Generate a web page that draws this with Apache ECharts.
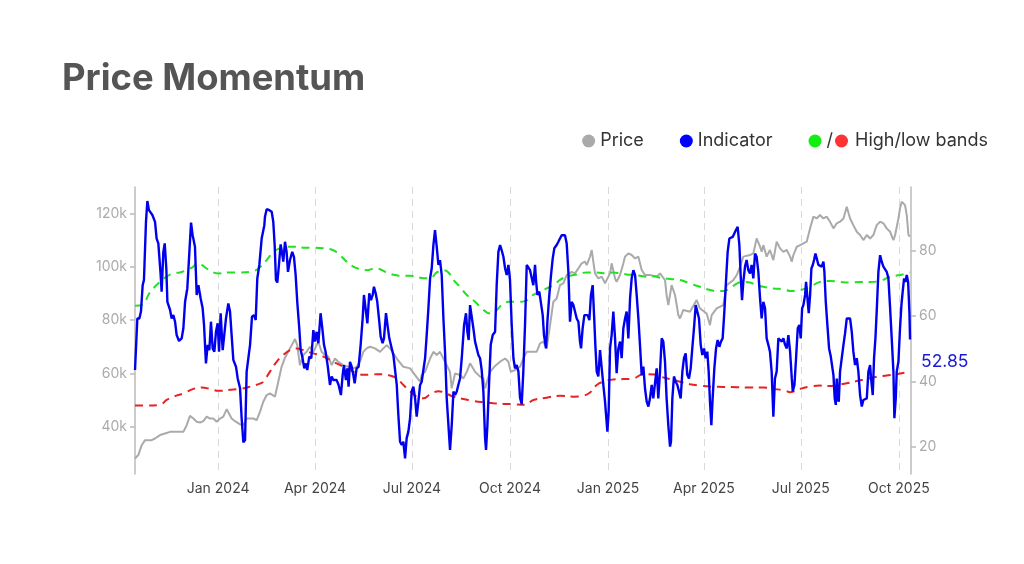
<!DOCTYPE html>
<html><head><meta charset="utf-8">
<script src="https://cdn.jsdelivr.net/npm/echarts@6/dist/echarts.min.js"></script>
<style>html,body{margin:0;padding:0;background:#fff}#c{width:1024px;height:564px}</style>
</head><body><div id="c"></div>
<script>
// x values are days counted from startDate
const startDate = '2023-10-15';
const endDay = 728.4;
const xTickDates = ['2024-01-01','2024-04-01','2024-07-01','2024-10-01','2025-01-01','2025-04-01','2025-07-01','2025-10-01'];
const xTickLabels = ['Jan 2024','Apr 2024','Jul 2024','Oct 2024','Jan 2025','Apr 2025','Jul 2025','Oct 2025'];
const priceTicks = [40000,60000,80000,100000,120000];
const indicatorTicks = [20,40,60,80];

const indicator = [
[0,43.5],[2.2,59.3],[4.1,59.3],[5.6,61.4],[7.2,69.5],[8.4,71.1],[10.3,88.9],[11.6,95.3],[13.1,92.5],[14.7,92.0],[16.3,91.0],[17.8,91.5],[18.8,88.9],[20.3,83.8],[21.9,82.3],[24.1,72.6],[25.0,67.5],[26.6,79.7],[27.9,82.3],[29.4,74.6],[30.4,64.4],[32.9,61.9],[34.4,59.3],[36.0,60.3],[37.6,58.3],[39.1,54.2],[41.3,52.4],[43.8,53.2],[45.4,56.3],[47.0,64.4],[49.1,68.5],[50.7,77.7],[52.6,88.7],[54.1,84.8],[56.3,81.3],[57.9,66.5],[59.5,69.5],[61.6,65.5],[63.5,62.4],[64.8,57.3],[66.6,45.5],[68.2,51.2],[69.8,49.6],[71.3,58.3],[72.9,50.1],[74.5,49.1],[76.0,55.2],[77.6,57.8],[78.9,49.1],[80.4,60.9],[82.3,49.6],[83.9,49.6],[85.4,59.3],[87.6,63.9],[89.2,61.4],[90.7,54.2],[92.3,46.6],[94.8,44.5],[96.4,40.9],[98.6,37.9],[100.1,28.7],[101.7,21.3],[103.3,22.0],[104.8,43.0],[106.4,47.1],[108.0,51.2],[109.8,59.8],[111.7,60.3],[113.3,58.8],[114.8,71.6],[116.7,75.7],[118.9,83.8],[121.4,87.9],
[122.0,90.5],[123.6,92.8],[126.1,92.5],[128.3,92.0],[129.8,88.9],[131.1,81.8],[132.3,71.1],[133.6,70.3],[135.1,75.7],[136.7,82.0],[137.9,79.7],[139.2,76.7],[140.8,82.8],[142.3,79.7],[143.6,73.6],[145.5,77.2],[147.6,79.7],[149.2,78.2],[150.8,72.6],[152.3,64.4],[154.2,56.3],[155.5,49.6],[157.0,47.6],[158.9,44.0],[160.5,45.5],[161.7,43.5],[163.6,47.6],[165.5,47.1],[167.4,55.7],[168.9,52.2],[170.5,55.2],[172.1,51.7],[174.2,60.9],[175.8,56.3],[177.4,51.2],[178.9,49.1],[180.8,45.0],[183.0,38.9],[184.6,41.5],[186.1,40.4],[187.7,40.9],[189.3,40.4],[191.1,38.9],[193.3,35.8],[194.9,41.9],[196.1,45.0],[198.0,40.4],[199.3,44.0],[200.5,38.4],[201.8,46.0],[203.4,44.5],[204.9,42.0],[206.2,39.4],[208.0,44.0],[209.9,44.5],[211.8,51.2],[213.7,59.3],[214.9,66.5],[216.8,61.4],[218.1,57.8],[219.9,67.0],[221.5,64.9],[223.1,66.5],[224.3,69.0],[225.9,67.0],[227.4,64.4],[229.3,58.3],[230.6,53.7],[232.4,51.7],[233.7,53.2],[235.6,60.9],[236.8,57.8],[238.7,53.2],
[241.0,50.1],[242.5,48.1],[244.1,43.5],[245.7,38.9],[247.2,29.7],[248.8,21.5],[250.4,20.5],[251.9,21.5],[253.5,16.4],[255.0,22.6],[256.6,24.6],[258.2,28.7],[259.7,36.9],[261.3,38.4],[262.9,34.8],[264.4,29.2],[266.0,33.8],[267.6,38.9],[269.1,39.9],[270.7,39.9],[272.3,47.1],[273.8,54.2],[275.4,62.4],[277.0,71.6],[278.5,74.6],[280.1,81.8],[281.6,86.4],[283.2,81.3],[284.8,75.7],[286.3,77.2],[287.9,72.6],[289.5,59.3],[291.0,49.1],[292.6,34.8],[294.2,26.6],[295.7,19.0],[297.3,26.6],[298.9,36.9],[300.4,35.8],[302.0,36.9],[303.5,38.9],[305.1,40.9],[306.7,47.1],[308.9,57.3],[310.7,60.9],[312.0,55.2],[313.2,52.7],[314.5,63.4],[316.1,63.9],[317.6,56.3],[319.2,52.2],[320.8,50.1],[322.3,48.1],[323.9,47.1],[325.4,43.5],[327.0,36.9],[328.6,22.6],[329.5,19.0],[330.8,26.6],[332.3,38.9],[333.9,51.2],[335.8,54.2],[338.0,55.2],[339.5,69.5],[341.1,79.7],[342.7,81.8],[344.2,80.2],[345.8,78.2],[347.4,74.6],[348.9,72.6],[350.5,75.7],[352.0,71.1],[353.6,57.3],[355.2,47.1],[356.7,44.0],[358.3,45.0],[359.9,43.0],[361.4,35.0],[363.0,33.0],
[364.5,43.0],[366.1,57.3],[367.7,75.7],[369.2,76.2],[370.8,74.1],[372.4,74.6],[373.9,69.5],[375.5,75.7],[376.4,71.1],[377.7,66.5],[379.5,67.5],[381.1,68.0],[382.7,60.3],[383.9,54.2],[385.8,50.1],[387.1,58.3],[388.9,66.5],[390.5,72.6],[392.1,77.7],[393.6,80.8],[395.8,81.8],[397.4,82.8],[398.9,83.8],[400.5,84.8],[402.1,85.1],[403.6,84.8],[405.2,82.3],[406.8,73.6],[408.3,58.3],[409.9,64.4],[411.5,63.4],[413.0,61.4],[414.6,59.3],[416.2,58.3],[417.7,52.2],[418.7,50.1],[420.2,56.3],[421.8,60.3],[423.4,59.8],[424.9,60.3],[426.5,58.8],[428.0,66.5],[429.6,69.5],[430.9,60.3],[432.1,51.2],[433.4,43.0],[434.9,41.5],[436.5,49.6],[438.1,44.0],[439.6,38.9],[441.2,33.8],[443.4,24.6],[444.6,30.7],[445.9,50.1],[447.4,54.2],[449.0,61.4],[450.6,53.2],[452.1,42.5],[453.7,50.1],[455.3,52.2],[456.8,47.1],[458.4,56.3],[460.0,59.3],[461.5,61.4],[463.1,53.2],[464.7,65.5],[466.2,71.6],[467.8,74.1],[469.4,72.6],[470.9,66.5],[472.5,59.3],[474.0,51.2],[475.6,41.9],[477.2,44.5],[478.7,37.9],[480.3,33.8],[481.9,32.3],[483.4,34.8],
[485.0,38.9],[486.5,34.8],[488.1,39.4],[489.7,44.0],[491.2,34.8],[492.8,43.0],[494.4,53.2],[495.9,52.2],[497.5,46.0],[499.0,34.8],[500.6,26.6],[502.2,20.0],[503.1,21.5],[504.4,34.8],[505.9,41.5],[507.5,39.9],[509.1,38.9],[510.6,36.9],[512.2,34.8],[513.8,43.0],[515.3,47.1],[516.9,48.6],[518.4,42.0],[520.0,40.9],[521.6,44.0],[523.1,50.1],[524.7,56.3],[526.3,63.4],[527.8,61.4],[529.4,59.3],[531.0,51.2],[532.5,48.1],[534.1,50.1],[535.7,47.1],[537.2,49.1],[538.5,43.0],[539.7,33.8],[541.0,26.6],[542.2,34.8],[543.8,44.0],[545.4,50.1],[546.9,52.7],[548.5,50.6],[550.0,52.2],[551.6,53.2],[553.2,61.4],[554.7,70.5],[556.3,79.7],[557.9,83.8],[559.4,83.3],[561.0,84.3],[562.6,84.8],[564.1,86.4],[565.7,87.4],[567.3,81.8],[568.5,72.6],[569.8,64.9],[571.0,70.5],[572.6,75.2],[574.1,77.2],[575.7,74.1],[577.3,73.1],[578.8,75.7],[580.4,71.6],[582.0,79.2],[583.5,78.2],[585.1,73.6],[586.7,65.5],[588.2,59.3],[589.8,64.4],[591.4,62.4],[592.9,53.2],[594.5,51.2],[596.0,49.1],[597.6,43.0],[599.2,29.2],[600.7,40.9],[602.3,43.0],[603.9,53.2],[605.4,52.7],
[607.1,52.2],[608.6,53.2],[610.2,51.2],[611.8,50.1],[613.3,54.2],[614.9,49.1],[616.5,40.9],[617.4,36.9],[619.0,38.9],[620.5,47.1],[622.1,56.3],[623.6,57.3],[624.9,53.2],[626.2,62.4],[627.4,63.4],[629.0,66.5],[629.9,70.5],[631.2,65.5],[632.4,60.9],[633.7,66.5],[634.9,74.6],[636.2,75.7],[637.4,77.2],[638.7,79.2],[639.9,77.7],[641.5,75.7],[643.0,76.2],[644.6,75.2],[646.2,76.7],[647.1,73.6],[648.4,64.4],[649.9,57.3],[651.5,50.1],[653.1,47.6],[654.6,47.1],[655.6,41.9],[656.8,34.8],[657.8,32.8],[658.7,40.9],[659.6,34.8],[660.6,33.8],[661.8,43.0],[663.4,47.1],[665.0,51.2],[666.5,54.7],[668.1,59.3],[669.6,59.8],[671.2,59.3],[672.8,55.2],[674.3,49.1],[675.9,45.0],[677.5,47.1],[679.0,43.0],[680.6,35.8],[682.2,32.3],[683.7,34.3],[685.3,33.8],[686.9,34.8],[688.4,43.0],[690.0,45.0],[690.9,40.9],[692.5,35.8],[693.7,47.1],[695.0,53.2],[696.2,61.4],[697.8,73.6],[699.4,78.7],[700.9,76.7],[702.5,75.2],[704.1,75.7],[705.6,73.6],[707.2,71.6],[708.8,62.4],[710.3,53.2],[711.9,43.0],[712.8,28.7],[714.1,34.8],[715.0,43.0],[716.6,46.0],[718.1,56.3],[719.4,63.4],[720.6,67.5],[721.9,71.6],[723.2,70.5],[724.4,72.6],[725.7,70.5],[726.9,61.4],[727.5,52.85]
];

const price = [
[0,28100],[3.1,29400],[6.3,33100],[9.4,35000],[12.5,35000],[15.6,35000],[18.8,35600],[23.5,36900],[28.2,37500],[32.9,38100],[39.1,38100],[45.4,38100],[48.5,40600],[51.6,44100],[54.8,43100],[57.9,41900],[61.0,41600],[64.1,42100],[67.3,43800],[70.4,43100],[73.5,43100],[76.7,41900],[79.8,43100],[82.9,43800],[86.1,46600],[87.6,46300],[90.7,43100],[93.9,42100],[98.6,40900],[101.7,40600],[104.8,43100],[108.0,43100],[111.1,43100],[114.2,42500],[117.3,45600],[120.4,49400],
[123.6,51900],[126.7,52500],[131.4,51300],[134.5,56900],[137.6,62500],[140.8,65900],[145.5,69400],[150.2,72900],[152.3,70600],[154.8,63100],[158.0,66900],[161.1,68100],[164.2,70000],[167.4,68100],[170.5,70600],[172.1,71900],[175.2,68100],[178.3,66900],[181.5,66300],[184.6,63100],[187.7,65600],[190.8,64400],[195.5,63100],[200.2,62500],[204.9,61900],[208.0,62500],[211.2,64400],[214.3,68100],[217.4,69400],[220.6,70000],[225.3,69400],[230.0,68100],[233.1,69400],[236.2,70600],
[239.4,69400],[245.7,65600],[251.9,62500],[258.2,61900],[262.9,59400],[267.6,56900],[269.1,59400],[272.3,60600],[277.0,65600],[280.1,68100],[283.2,66900],[286.3,68100],[291.0,64400],[295.7,60600],[297.3,54400],[300.4,60000],[305.1,59400],[308.2,58100],[311.4,60600],[314.5,63800],[319.2,60600],[323.9,58800],[327.0,58100],[328.6,54400],[330.8,57500],[333.3,60600],[338.0,62800],[342.7,64400],[347.4,65600],[350.5,64400],[352.7,60600],[356.7,61300],[361.4,62500],
[364.5,65600],[367.7,68100],[372.4,68100],[377.0,68100],[380.2,71300],[383.3,71900],[386.4,69400],[389.6,78100],[392.7,86900],[395.8,88100],[398.9,93100],[402.1,93800],[405.2,96900],[409.9,98100],[413.0,97500],[416.2,99400],[419.3,101300],[422.4,101900],[424.0,100600],[427.1,103800],[428.7,106300],[430.2,101900],[431.8,97500],[434.9,95600],[438.1,96300],[441.2,93800],[442.8,93100],[445.9,97500],[447.4,101300],[450.6,95600],[452.1,94400],[455.3,96900],[458.4,101300],[460.0,103800],[463.1,105000],[466.2,104400],[469.4,103100],[472.5,103800],[475.6,98800],[478.7,96900],
[483.4,96900],[489.7,96300],[492.8,97500],[497.5,95000],[499.0,89400],[500.6,85600],[502.2,89400],[503.7,93100],[506.9,89400],[510.0,81900],[511.6,80600],[514.7,83800],[521.0,83100],[527.2,87500],[530.3,84400],[536.6,82500],[539.7,78100],[541.3,81900],[546.0,84400],[552.2,85600],[555.4,93100],[561.6,95000],[564.8,96900],[567.9,100000],[571.0,103800],[577.3,104400],[580.4,105000],[583.5,110600],[585.1,111300],[586.7,107500],[588.2,105600],[589.8,108100],[592.9,103800],[596.0,106300],[599.2,102500],[602.3,109400],[603.9,110000],
[605.5,106900],[608.6,105600],[611.8,106300],[614.9,103800],[616.5,101900],[618.0,104400],[621.2,107500],[624.3,108100],[627.4,108800],[630.5,109400],[633.7,114400],[636.8,118800],[639.9,118100],[643.0,119400],[646.2,118100],[649.3,118800],[652.4,116900],[655.6,114400],[658.7,116300],[661.8,116900],[665.0,118100],[668.1,122500],[671.2,118100],[674.3,115600],[677.5,113100],[680.6,111900],[683.7,110000],[686.9,111900],[690.0,110600],[693.1,111900],[696.2,115600],[699.4,116900],[702.5,116300],[705.6,114400],[708.8,113100],[711.9,110000],[713.5,111900],[716.6,118100],[718.1,121900],[719.7,124400],[721.3,123800],[722.8,123100],[724.4,119400],[726.0,111900],[727.5,111300]
];

const highBand = [
[0,63.2],[7.8,63.6],[12.5,66.5],[17.2,68.5],[23.5,70.5],[29.7,72.1],[36.0,73.1],[42.2,73.4],[48.5,74.1],[54.8,75.2],[57.9,76.2],[62.6,75.7],[67.3,74.6],[73.5,73.4],[78.2,73.1],[89.2,73.4],[98.6,73.4],[111.1,73.8],[117.3,75.0],[123.6,77.2],[129.8,79.7],[136.1,80.8],[142.3,81.3],[148.6,81.3],[158.0,81.0],[167.4,81.0],[176.8,80.8],[186.1,80.2],[192.4,78.7],[198.7,76.7],[204.9,75.2],[211.2,74.4],[217.4,74.1],[225.3,74.6],[230.0,74.4],[236.2,73.4],[244.0,72.6],[248.8,72.4],[258.2,72.4],[267.6,71.8],[277.0,71.6],[283.2,73.4],[289.5,74.1],[294.2,73.4],[298.9,71.1],[305.1,69.0],[311.4,66.5],[319.2,64.4],[325.4,62.4],[333.3,60.8],[338.0,61.4],[344.2,63.4],[350.5,64.4],[358.3,64.4],[366.1,64.6],[373.9,66.5],[380.2,67.5],[386.4,68.5],[392.7,69.5],[398.9,71.1],[405.2,72.1],[414.6,72.8],[424.0,73.4],[433.4,73.4],[442.8,73.1],[449.0,73.4],[455.3,73.1],[461.5,72.8],[467.8,72.6],[474.0,72.4],[480.3,72.1],[488.1,72.2],[492.8,71.8],[502.2,71.4],[511.6,71.1],[521.0,70.0],[530.3,69.0],[539.7,68.0],[546.0,67.7],[552.2,67.7],[558.5,68.5],[564.8,70.0],[571.0,70.5],[577.3,70.3],[583.5,69.5],[589.8,69.0],[599.2,68.5],[610.1,68.2],[614.9,67.7],[624.3,68.0],[633.7,69.0],[643.0,70.5],[652.4,70.8],[661.8,70.5],[671.2,70.3],[680.6,70.5],[690.0,70.5],[699.4,70.8],[708.8,72.1],[718.1,72.6],[727.5,73.4]
];

const lowBand = [
[0,32.6],[11.0,32.6],[23.5,32.8],[29.7,34.3],[36.0,35.3],[45.4,36.3],[54.8,37.7],[62.6,38.1],[70.4,37.7],[78.2,37.1],[89.2,37.4],[98.6,37.7],[108.0,38.4],[117.3,39.3],[120.4,39.9],[126.7,43.0],[132.9,46.0],[139.2,48.1],[145.5,49.6],[151.7,50.1],[158.0,49.6],[164.2,48.9],[170.5,48.3],[176.8,47.6],[183.0,46.6],[189.3,45.5],[195.5,44.5],[201.8,43.5],[208.0,42.5],[214.3,42.0],[220.6,42.0],[226.8,42.2],[233.1,42.2],[239.3,41.8],[245.7,40.9],[251.9,38.9],[258.2,36.9],[264.4,35.3],[270.7,34.8],[277.0,36.0],[285.0,37.0],[292.0,36.3],[298.9,35.3],[308.2,34.6],[317.6,34.0],[327.0,33.6],[336.4,33.3],[345.8,33.1],[355.2,33.0],[366.1,32.8],[373.9,34.3],[386.4,35.0],[398.9,35.6],[411.5,35.3],[420.9,35.6],[427.1,36.6],[433.4,38.9],[439.6,39.9],[449.0,40.6],[458.4,40.7],[467.8,40.9],[477.2,42.2],[488.1,42.1],[492.8,41.5],[502.2,40.7],[511.6,39.9],[521.0,39.1],[530.3,38.7],[539.7,38.4],[552.2,38.3],[564.8,38.2],[577.3,38.1],[589.8,38.1],[599.2,37.7],[610.1,37.2],[614.9,36.7],[618.0,36.9],[624.3,37.7],[633.7,38.4],[643.0,38.7],[652.4,38.6],[658.7,38.9],[668.1,39.4],[677.5,40.1],[686.9,40.7],[696.2,41.4],[705.6,41.8],[715.0,42.2],[727.5,43.0]
];

const DAY = 86400000;
const t0 = Date.parse(startDate + 'T00:00:00Z');
const toTs = d => t0 + d * DAY;
const toSeries = arr => arr.map(p => [toTs(p[0]), p[1]]);
const xTickTs = xTickDates.map(s => Date.parse(s + 'T00:00:00Z'));
const FONT = 'Inter';

const chart = echarts.init(document.getElementById('c'), null, {renderer: 'canvas'});
chart.setOption({
  animation: false,
  backgroundColor: '#ffffff',
  textStyle: {fontFamily: FONT},
  title: {
    text: 'Price Momentum', left: 57, top: 56,
    textStyle: {fontFamily: FONT, fontWeight: 'bold', fontSize: 36.4, color: '#555555'}
  },
  legend: {
    data: ['Price', 'Indicator', 'High band'],
    right: 31, top: 127,
    icon: 'circle', itemWidth: 13, itemHeight: 13, itemGap: 36,
    itemStyle: {borderWidth: 0},
    selectedMode: false,
    textStyle: {
      fontFamily: FONT, fontSize: 18, color: '#333333',
      rich: {
        sl: {fontFamily: FONT, fontSize: 18, color: '#333333', padding: [0, 2, 0, 0]},
        rd: {width: 13, height: 13, borderRadius: 6.5, backgroundColor: '#ff3333'},
        tx: {fontFamily: FONT, fontSize: 18, color: '#333333', padding: [0, 0, 0, 7]}
      }
    },
    formatter: name => name === 'High band' ? '{sl|/}{rd| }{tx|High/low bands}' : name
  },
  grid: {left: 135, right: 113, top: 187, bottom: 90, containLabel: false, outerBoundsMode: 'none'},
  xAxis: {
    type: 'value', min: toTs(0), max: toTs(endDay),
    axisLine: {show: false},
    axisTick: {show: false, customValues: xTickTs},
    axisLabel: {
      customValues: xTickTs, color: '#444444', fontSize: 14, fontFamily: FONT, margin: 8,
      formatter: v => { const i = xTickTs.indexOf(v); return i >= 0 ? xTickLabels[i] : ''; }
    },
    splitLine: {show: true, lineStyle: {color: '#d9d9d9', width: 1, type: [7, 5]}}
  },
  yAxis: [
    {
      type: 'value', position: 'left', min: 22300, max: 129900,
      axisLine: {show: true, lineStyle: {color: '#bbbbbb', width: 1.5}},
      axisTick: {show: true, length: 5, customValues: priceTicks, lineStyle: {color: '#bbbbbb', width: 1.5}},
      axisLabel: {customValues: priceTicks, color: '#aaaaaa', fontSize: 14, fontFamily: FONT, margin: 8,
        formatter: v => (v / 1000) + 'k'},
      splitLine: {show: false}
    },
    {
      type: 'value', position: 'right', min: 11.6, max: 99.6,
      axisLine: {show: true, lineStyle: {color: '#bbbbbb', width: 1.5}},
      axisTick: {show: true, length: 5, customValues: indicatorTicks, lineStyle: {color: '#bbbbbb', width: 1.5}},
      axisLabel: {customValues: indicatorTicks, color: '#aaaaaa', fontSize: 14, fontFamily: FONT, margin: 8},
      splitLine: {show: false}
    }
  ],
  series: [
    {
      name: 'Price', type: 'line', yAxisIndex: 0, data: toSeries(price),
      showSymbol: false, symbol: 'none', emphasis: {disabled: true},
      lineStyle: {color: '#aaaaaa', width: 2}, itemStyle: {color: '#aaaaaa'}
    },
    {
      name: 'Low band', type: 'line', yAxisIndex: 1, data: toSeries(lowBand), smooth: 0.4,
      showSymbol: false, symbol: 'none', emphasis: {disabled: true},
      lineStyle: {color: '#e62222', width: 2, type: [8, 6]}, itemStyle: {color: '#ff3333'}
    },
    {
      name: 'High band', type: 'line', yAxisIndex: 1, data: toSeries(highBand), smooth: 0.4,
      showSymbol: false, symbol: 'none', emphasis: {disabled: true},
      lineStyle: {color: '#22e022', width: 2, type: [8, 6]}, itemStyle: {color: '#11ee11'}
    },
    {
      name: 'Indicator', type: 'line', yAxisIndex: 1, data: toSeries(indicator),
      showSymbol: false, symbol: 'none', emphasis: {disabled: true},
      lineStyle: {color: '#0000ee', width: 2.4}, itemStyle: {color: '#0000ff'},
      endLabel: {
        show: true, formatter: p => p.value[1].toFixed(2),
        color: '#1a1ad6', fontSize: 17.5, fontFamily: FONT, distance: 0, offset: [11, 22]
      }
    }
  ]
});
</script>
</body></html>
